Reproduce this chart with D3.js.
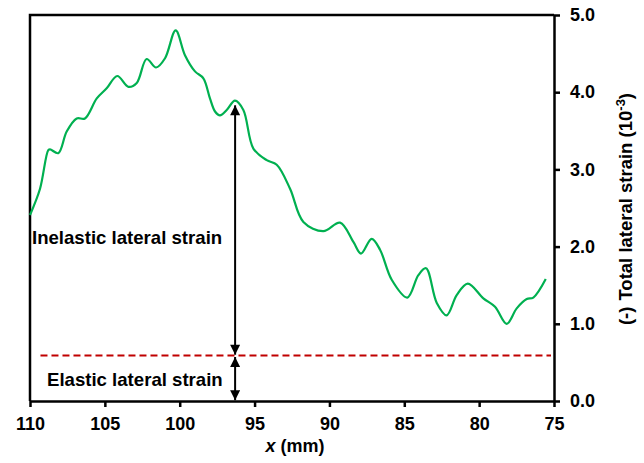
<!DOCTYPE html>
<html>
<head>
<meta charset="utf-8">
<script src="https://cdn.jsdelivr.net/npm/d3@7"></script>
<style>
  body { margin: 0; background: #fff; }
  text { font-family: "Liberation Sans", Arial, sans-serif; font-weight: bold; }
</style>
</head>
<body>
<svg id="chart"></svg>
<script>
// position along the specimen (mm) and total lateral strain (10^-3)
const positions = [110, 109.33, 108.78, 108.66, 108.11, 107.55, 106.88, 106.33, 105.54, 104.88,
  104.17, 103.43, 102.87, 102.21, 101.58, 100.98, 100.27, 99.65, 98.98, 98.42,
  97.98, 97.64, 97.31, 96.86, 96.31, 95.75, 95.08, 94.19, 93.52, 92.63,
  91.74, 90.41, 89.29, 88.40, 87.89, 87.18, 86.62, 85.84, 84.80, 84.06,
  83.55, 82.83, 82.17, 81.50, 80.76, 79.72, 78.94, 78.16, 77.49, 76.82,
  76.38, 75.55];
const strains = [2.41, 2.75, 3.25, 3.26, 3.21, 3.49, 3.66, 3.66, 3.92, 4.05,
  4.21, 4.07, 4.12, 4.43, 4.32, 4.44, 4.80, 4.48, 4.27, 4.18,
  3.92, 3.75, 3.70, 3.77, 3.89, 3.77, 3.27, 3.12, 3.06, 2.75,
  2.32, 2.20, 2.31, 2.06, 1.91, 2.10, 1.96, 1.57, 1.34, 1.63,
  1.72, 1.27, 1.11, 1.37, 1.52, 1.33, 1.22, 1.00, 1.20, 1.32,
  1.34, 1.58];

const xTicks = [110, 105, 100, 95, 90, 85, 80, 75];
const yTicks = [0, 1, 2, 3, 4, 5];

const elasticStrain = 0.59;
const elasticRange = [109.3, 75.2];
const arrowX = 96.3;
const arrowTop = 3.83;

const width = 644, height = 463;
const margin = { top: 15, right: 90, bottom: 62, left: 30 };

const svg = d3.select('#chart').attr('width', width).attr('height', height);

const x = d3.scaleLinear().domain([110, 75]).range([margin.left, width - margin.right]);
const y = d3.scaleLinear().domain([0, 5]).range([height - margin.bottom, margin.top]);

// frame (top and left sides)
svg.append('path')
  .attr('d', `M${x(110)},${y(0)}V${y(5)}H${x(75)}`)
  .attr('fill', 'none').attr('stroke', '#000').attr('stroke-width', 2.5);

const xAxis = g => g
  .attr('transform', `translate(0,${y(0)})`)
  .call(d3.axisBottom(x).tickValues(xTicks).tickSize(6).tickSizeOuter(0).tickPadding(10).tickFormat(d3.format('d')))
  .call(g => g.selectAll('path, line').attr('stroke-width', 2.5))
  .call(g => g.selectAll('text').attr('font-size', 18).attr('fill', '#000'));

const yAxis = g => g
  .attr('transform', `translate(${x(75)},0)`)
  .call(d3.axisRight(y).tickValues(yTicks).tickSize(6).tickSizeOuter(0).tickPadding(10).tickFormat(d3.format('.1f')))
  .call(g => g.selectAll('path, line').attr('stroke-width', 2.5))
  .call(g => g.selectAll('text').attr('font-size', 18).attr('fill', '#000'));

svg.append('g').call(xAxis);
svg.append('g').call(yAxis);

// elastic strain level
svg.append('line')
  .attr('x1', x(elasticRange[0])).attr('x2', x(elasticRange[1]))
  .attr('y1', y(elasticStrain)).attr('y2', y(elasticStrain))
  .attr('stroke', '#C00000').attr('stroke-width', 2).attr('stroke-dasharray', '7,4');

// measured curve
const line = d3.line()
  .x((d, i) => x(positions[i]))
  .y(d => y(d))
  .curve(d3.curveCatmullRom.alpha(0.5));

svg.append('path')
  .datum(strains)
  .attr('d', line)
  .attr('fill', 'none')
  .attr('stroke', '#00B050')
  .attr('stroke-width', 2.2);

// double arrows
const defs = svg.append('defs');
defs.append('marker')
  .attr('id', 'head')
  .attr('viewBox', '0 0 10 10')
  .attr('refX', 10).attr('refY', 5)
  .attr('markerUnits', 'userSpaceOnUse')
  .attr('markerWidth', 11).attr('markerHeight', 10)
  .attr('orient', 'auto-start-reverse')
  .append('path').attr('d', 'M0,0L10,5L0,10Z').attr('fill', '#000');

function dblArrow(v0, v1) {
  svg.append('line')
    .attr('x1', x(arrowX)).attr('x2', x(arrowX))
    .attr('y1', y(v0)).attr('y2', y(v1))
    .attr('stroke', '#000').attr('stroke-width', 2)
    .attr('marker-start', 'url(#head)')
    .attr('marker-end', 'url(#head)');
}
dblArrow(arrowTop, elasticStrain + 0.01);
dblArrow(elasticStrain - 0.02, 0.01);

svg.append('text')
  .attr('x', 32).attr('y', 243.5)
  .attr('font-size', 18.6)
  .text('Inelastic lateral strain');

svg.append('text')
  .attr('x', 47).attr('y', 386)
  .attr('font-size', 18.6)
  .text('Elastic lateral strain');

// axis titles
const xTitle = svg.append('text')
  .attr('x', (x(110) + x(75)) / 2 + 3).attr('y', 452)
  .attr('text-anchor', 'middle')
  .attr('font-size', 18);
xTitle.append('tspan').attr('font-style', 'italic').text('x');
xTitle.append('tspan').text(' (mm)');

const yTitle = svg.append('text')
  .attr('transform', 'translate(632,209) rotate(-90)')
  .attr('text-anchor', 'middle')
  .attr('font-size', 18.5);
yTitle.append('tspan').text('(-)');
yTitle.append('tspan').attr('dx', 6).text('Total lateral strain (10');
yTitle.append('tspan').attr('font-size', 13).attr('dy', -7).text('-3');
yTitle.append('tspan').attr('dy', 7).text(')');
</script>
</body>
</html>
